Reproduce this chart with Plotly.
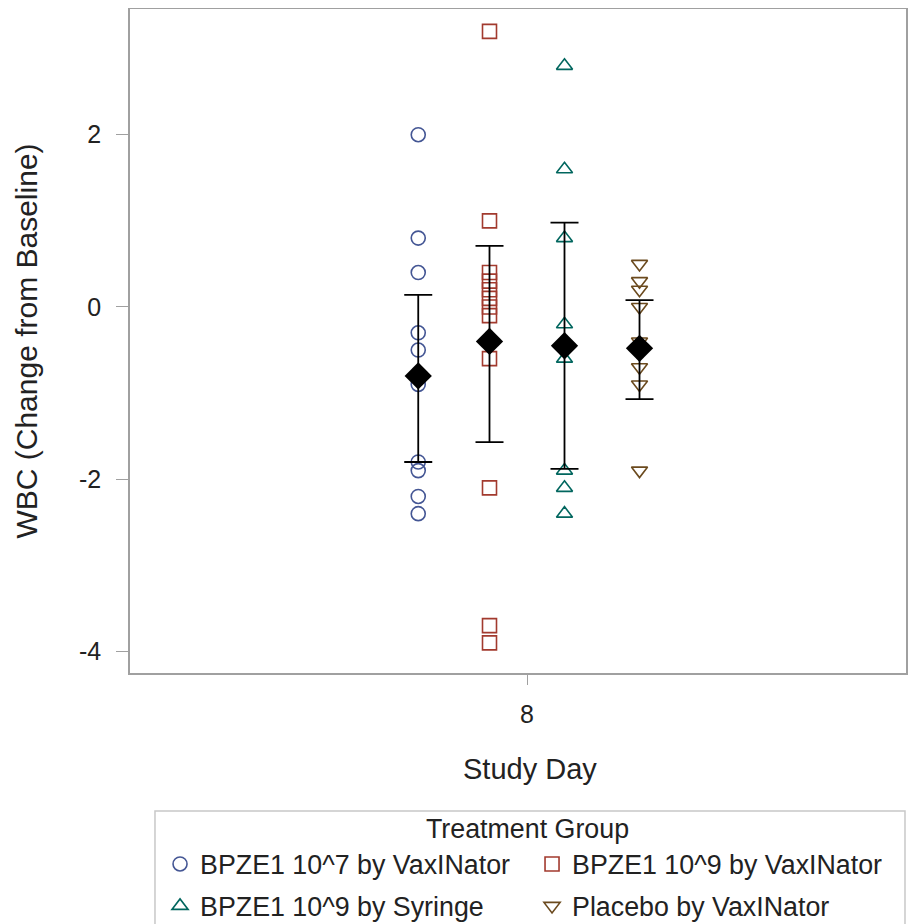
import plotly.graph_objects as go

# ---- data ----
study_day = 8
groups = ["BPZE1 10^7 by VaxINator", "BPZE1 10^9 by VaxINator",
          "BPZE1 10^9 by Syringe", "Placebo by VaxINator"]

g1_values = [2.0, 0.8, 0.4, -0.3, -0.5, -0.9, -1.8, -1.9, -2.2, -2.4]
g2_values = [3.2, 1.0, 0.4, 0.3, 0.2, 0.1, 0.0, -0.1, -0.6, -2.1, -3.7, -3.9]
g3_values = [2.8, 1.6, 0.8, -0.2, -0.6, -1.9, -2.1, -2.4]
g4_values = [0.5, 0.3, 0.2, 0.0, -0.4, -0.7, -0.9, -1.9]

group_means = [-0.80, -0.40, -0.45, -0.48]
group_lower = [-1.80, -1.57, -1.88, -1.07]
group_upper = [0.14, 0.71, 0.98, 0.08]

y_ticks = [-4, -2, 0, 2]
y_tick_labels = ["-4", "-2", "0", "2"]

# ---- styling ----
offsets = [-0.145, -0.05, 0.05, 0.15]
colors = ["#445694", "#A23A2E", "#01665E", "#6B4A1E"]
symbols = ["circle-open", "square-open", "triangle-up-open", "triangle-down-open"]
legend_ids = ["legend", "legend", "legend2", "legend2"]
FONT = "Liberation Sans, Arial, sans-serif"
FRAME = "#a0a0a0"

fig = go.Figure()
all_values = [g1_values, g2_values, g3_values, g4_values]
for i, vals in enumerate(all_values):
    fig.add_trace(go.Scatter(
        x=[study_day + offsets[i]] * len(vals), y=vals,
        mode="markers", name=groups[i], legend=legend_ids[i],
        marker=dict(symbol=symbols[i], size=14, color=colors[i],
                    line=dict(width=1.6, color=colors[i])),
    ))

for i in range(4):
    fig.add_trace(go.Scatter(
        x=[study_day + offsets[i]], y=[group_means[i]],
        mode="markers", showlegend=False,
        marker=dict(symbol="diamond", size=21, color="black"),
        error_y=dict(type="data", symmetric=False,
                     array=[group_upper[i] - group_means[i]],
                     arrayminus=[group_means[i] - group_lower[i]],
                     color="black", thickness=1.8, width=14),
    ))

legend_common = dict(orientation="h", xanchor="left", yanchor="middle",
                     bgcolor="rgba(0,0,0,0)", borderwidth=0,
                     font=dict(size=26.8), entrywidth=327, entrywidthmode="pixels",
                     itemsizing="trace")

fig.update_layout(
    width=917, height=924,
    margin=dict(l=122, r=19, t=1, b=259, autoexpand=False),
    plot_bgcolor="white", paper_bgcolor="white",
    font=dict(family=FONT, size=24, color="#222"),
    xaxis=dict(range=[7.4707, 8.5053], tickvals=[study_day], ticktext=[str(study_day)],
               showgrid=False, zeroline=False, showline=True, mirror=True, automargin=False,
               linecolor=FRAME, linewidth=1.5, ticks="outside", ticklen=10,
               ticklabelstandoff=8,
               tickcolor=FRAME, tickfont=dict(size=25)),
    yaxis=dict(range=[-4.25, 3.46], tickvals=y_ticks, ticktext=y_tick_labels,
               showgrid=False, zeroline=False, showline=True, mirror=True, automargin=False,
               linecolor=FRAME, linewidth=1.5, ticks="outside", ticklen=12,
               ticklabelstandoff=10,
               tickcolor=FRAME, tickfont=dict(size=25),
               title=dict(text="WBC (Change from Baseline)", font=dict(size=30), standoff=33)),
    legend=dict(x=0.0387, y=-0.2877, **legend_common),
    legend2=dict(x=0.0387, y=-0.3509, **legend_common),
    shapes=[dict(type="rect", xref="paper", yref="paper",
                 x0=0.0322, x1=0.9987, y0=-0.3825, y1=-0.2078,
                 line=dict(color="#c8c8c8", width=1.5), fillcolor="rgba(0,0,0,0)")],
    annotations=[
        dict(text="Study Day", xref="paper", yref="paper",
             x=0.5155, y=-0.1446, xanchor="center", yanchor="middle",
             showarrow=False, font=dict(size=29)),
        dict(text="Treatment Group", xref="paper", yref="paper",
             x=0.5116, y=-0.235, xanchor="center", yanchor="middle",
             showarrow=False, font=dict(size=26.8)),
    ],
)

fig.write_html("out.html")
